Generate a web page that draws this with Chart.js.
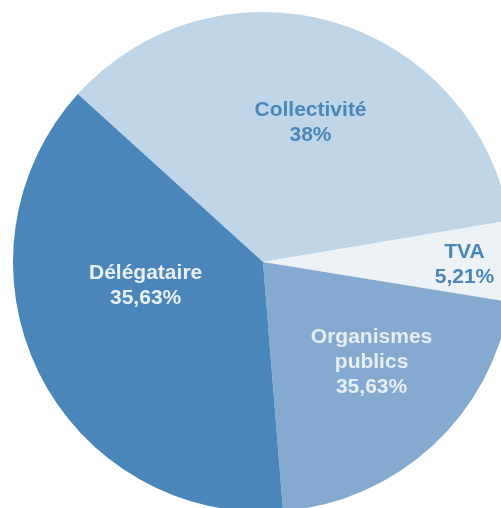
<!DOCTYPE html>
<html>
<head>
<meta charset="utf-8">
<script src="https://cdn.jsdelivr.net/npm/chart.js@4"></script>
<style>
  html, body { margin: 0; padding: 0; background: #ffffff; overflow: hidden; width: 501px; height: 508px; }
  #pie { position: absolute; left: 13px; top: 12px; }
</style>
</head>
<body>
<canvas id="pie" width="500" height="500"></canvas>
<script>
//slice names, clockwise from the upper-left edge
const categories = ["Collectivité", "TVA", "Organismes publics", "Délégataire"];
//share of each slice (angle of the drawn pie)
const shares = [35.63, 5.21, 21.16, 38];
//percent text printed on each slice in the original
const shownPercent = ["38%", "5,21%", "35,63%", "35,63%"];
//text lines of each label
const labelLines = [
  ["Collectivité"],
  ["TVA"],
  ["Organismes", "publics"],
  ["Délégataire"],
];

const sliceColors = ["#bfd6e9", "#edf2f7", "#85aacf", "#4a86b9"];
const textColors = ["#4a86b9", "#4a86b9", "#e6eef7", "#e9f0f8"];
//where each label sits: angle from top (deg, clockwise) and fraction of radius
const labelPlace = [
  { angle: 18.7, dist: 0.593 },
  { angle: 90.4, dist: 0.806 },
  { angle: 132.4, dist: 0.588 },
  { angle: 259.2, dist: 0.478 },
];

//draws the multi line labels on top of the slices
const sliceLabels = {
  id: "sliceLabels",
  afterDatasetsDraw(chart) {
    const ctx = chart.ctx;
    const arcs = chart.getDatasetMeta(0).data;
    ctx.save();
    ctx.font = "bold 21px 'Liberation Sans', Arial, sans-serif";
    ctx.textAlign = "center";
    ctx.textBaseline = "middle";
    arcs.forEach((arc, i) => {
      const a = (labelPlace[i].angle - 90) * Math.PI / 180;
      const r = arc.outerRadius * labelPlace[i].dist;
      const cx = arc.x + Math.cos(a) * r;
      const cy = arc.y + Math.sin(a) * r + 1.5;
      const lines = labelLines[i].concat([shownPercent[i]]);
      const lh = 25;
      const top = cy - (lines.length - 1) * lh / 2;
      ctx.fillStyle = textColors[i];
      lines.forEach((t, k) => ctx.fillText(t, cx, top + k * lh));
    });
    ctx.restore();
  },
};

let myChart = new Chart(document.getElementById("pie"), {
  type: "pie",
  plugins: [sliceLabels],
  data: {
    labels: categories,
    datasets: [
      {
        data: shares,
        backgroundColor: sliceColors,
        borderWidth: 0,
        hoverBorderWidth: 0,
        hoverOffset: 0,
        offset: 0,
      },
    ],
  },
  options: {
    responsive: false,
    animation: false,
    rotation: -47.8,
    layout: { padding: 0 },
    plugins: {
      legend: { display: false },
      tooltip: { enabled: false },
    },
  },
});
</script>
</body>
</html>
